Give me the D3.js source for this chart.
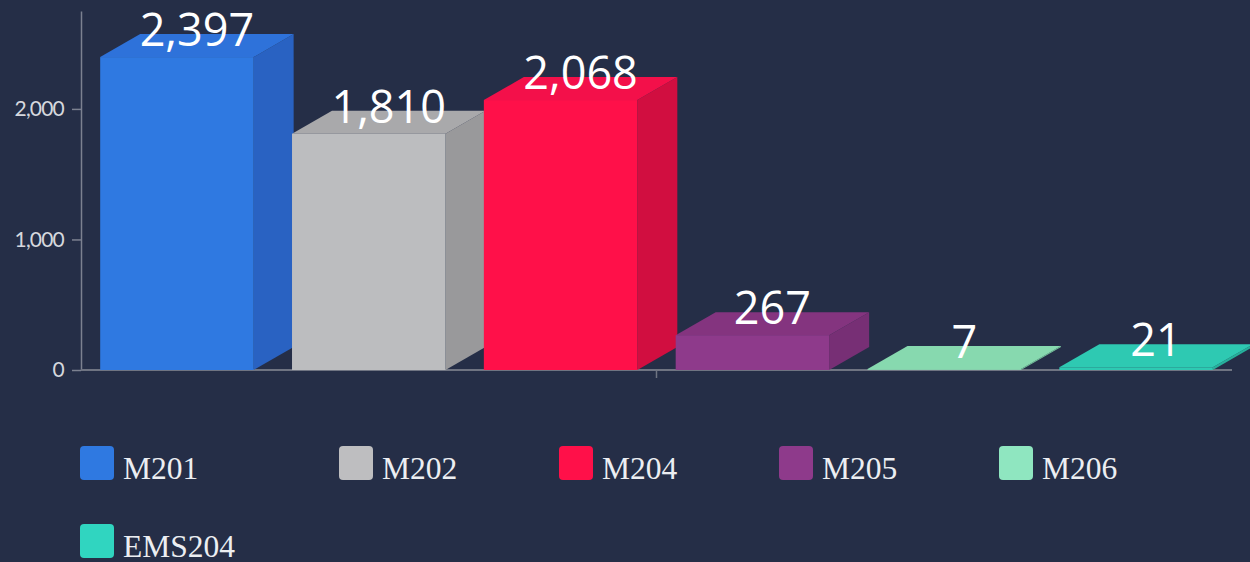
<!DOCTYPE html>
<html>
<head>
<meta charset="utf-8">
<script src="https://cdn.jsdelivr.net/npm/d3@7"></script>
<style>
  html, body { margin: 0; padding: 0; background: #252e47; }
  svg { display: block; }
</style>
</head>
<body>
<div id="chart"></div>
<script>
const categories = ["M201", "M202", "M204", "M205", "M206", "EMS204"];
const values = [2397, 1810, 2068, 267, 7, 21];
const yTicks = [0, 1000, 2000];
const frontColors = ["#2f79e1", "#bcbdbf", "#ff1049", "#8e3a8b", "#8ad9b2", "#2ec9b2"];
const sideColors = ["#2962c2", "#99999b", "#d10e40", "#772f75", "#76c49d", "#26b09b"];
const topColors = ["#2e72da", "#a9a9ab", "#f3104a", "#84347f", "#87d9af", "#2ec9b2"];
const legendColors = ["#2f79e1", "#bebec0", "#ff1049", "#8e3a8b", "#8fe6c0", "#30d5c0"];

const width = 1250, height = 562;
const depthX = 40, depthY = 23;

const svg = d3.select("#chart")
  .append("svg")
    .attr("width", width)
    .attr("height", height);

const x = d3.scaleBand()
  .domain(categories)
  .range([81, 1232])
  .paddingInner(0.2)
  .paddingOuter(0.1);

const y = d3.scaleLinear()
  .domain([0, 2750])
  .range([370, 11]);

// y axis
const yAxis = svg.append("g")
  .attr("transform", "translate(81,0)")
  .call(d3.axisLeft(y).tickValues(yTicks).tickFormat(d3.format(",")).tickSize(9).tickSizeOuter(0));
yAxis.select(".domain").attr("stroke", "#7c8190").attr("stroke-width", 1.5);
yAxis.selectAll(".tick line").attr("stroke", "#7c8190").attr("stroke-width", 1.5);
yAxis.selectAll(".tick text")
  .attr("fill", "#d6d8de")
  .attr("x", -17)
  .style("font-family", "Lato, sans-serif")
  .style("font-size", "21px")
  .style("letter-spacing", "-0.8px");

// baseline with the single centre tick
const base = svg.append("g");
base.append("line")
  .attr("x1", x.range()[0]).attr("x2", x.range()[1])
  .attr("y1", y(0)).attr("y2", y(0))
  .attr("stroke", "#6f7482").attr("stroke-width", 2);
base.append("line")
  .attr("x1", (x.range()[0] + x.range()[1]) / 2).attr("x2", (x.range()[0] + x.range()[1]) / 2)
  .attr("y1", y(0)).attr("y2", y(0) + 8)
  .attr("stroke", "#6f7482").attr("stroke-width", 1.5);

const data = categories.map((c, i) => ({ cat: c, value: values[i], i: i }));

const bars = svg.selectAll("g.bar")
  .data(data)
  .join("g")
    .attr("class", "bar");

const bw = x.bandwidth();

// side face
bars.append("path")
  .attr("fill", d => sideColors[d.i])
  .attr("d", d => {
    const x1 = x(d.cat) + bw, y0 = y(0), yt = y(d.value);
    return `M${x1},${y0} L${x1 + depthX},${y0 - depthY} L${x1 + depthX},${yt - depthY} L${x1},${yt} Z`;
  });

// top face
bars.append("path")
  .attr("fill", d => topColors[d.i])
  .attr("d", d => {
    const x0 = x(d.cat), yt = y(d.value);
    return `M${x0},${yt} L${x0 + depthX},${yt - depthY} L${x0 + bw + depthX},${yt - depthY} L${x0 + bw},${yt} Z`;
  });

// front face
bars.append("rect")
  .attr("x", d => x(d.cat))
  .attr("y", d => y(d.value))
  .attr("width", bw)
  .attr("height", d => y(0) - y(d.value))
  .attr("fill", d => frontColors[d.i]);

// value labels
svg.selectAll("text.val")
  .data(data)
  .join("text")
    .attr("class", "val")
    .attr("x", d => x(d.cat) + bw / 2 + depthX / 2)
    .attr("y", d => y(d.value) - 11)
    .attr("text-anchor", "middle")
    .attr("fill", "#ffffff")
    .style("font-family", "'Open Sans', sans-serif")
    .style("font-size", "45px")
    .text(d => d3.format(",")(d.value));

// legend
const legend = svg.selectAll("g.legend")
  .data(data)
  .join("g")
    .attr("class", "legend")
    .attr("transform", d => {
      const col = d.i % 5, row = Math.floor(d.i / 5);
      const lx = col === 0 ? 80 : 339 + (col - 1) * 220;
      return `translate(${lx},${446 + row * 78})`;
    });

legend.append("rect")
  .attr("width", 34)
  .attr("height", 34)
  .attr("rx", 4)
  .attr("fill", d => legendColors[d.i]);

legend.append("text")
  .attr("x", 43)
  .attr("y", 33)
  .attr("fill", "#eceef2")
  .style("font-family", "'Liberation Serif', serif")
  .style("font-size", "31.5px")
  .text(d => d.cat);
</script>
</body>
</html>
